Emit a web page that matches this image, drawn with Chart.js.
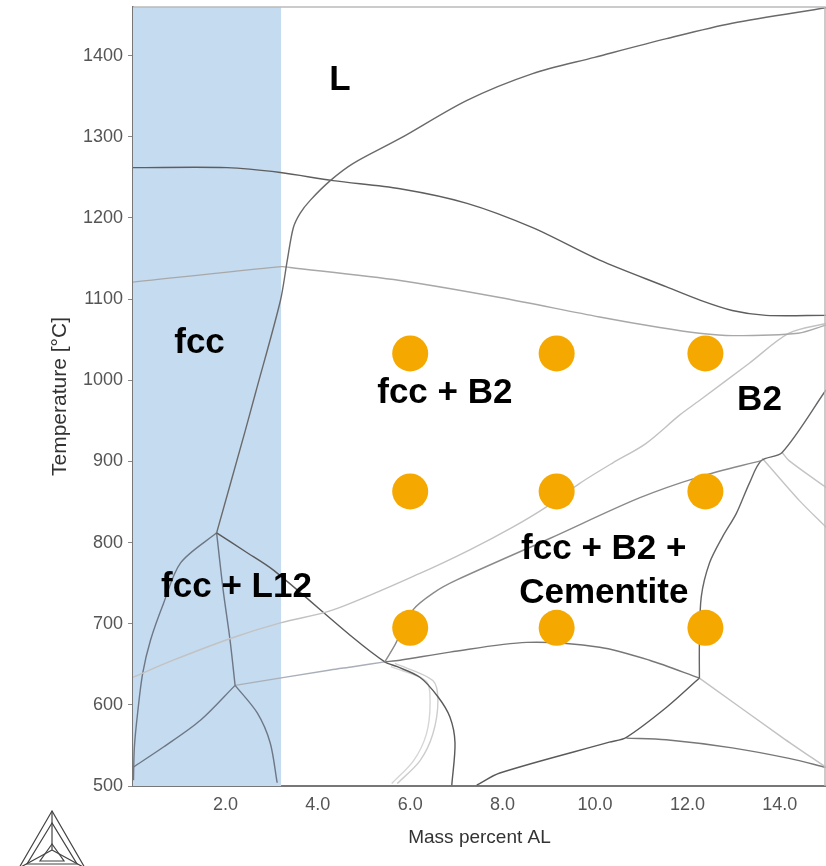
<!DOCTYPE html>
<html>
<head>
<meta charset="utf-8">
<script src="https://cdn.jsdelivr.net/npm/chart.js@4.4.1/dist/chart.umd.min.js"></script>
<style>
  html, body { margin: 0; padding: 0; background: #fff; overflow: hidden; }
  canvas { display: block; }
</style>
</head>
<body>
<canvas id="plot" width="826" height="866"></canvas>
<script>
// Phase boundaries: [mass percent Al, temperature in °C]
const liquidusTop = [[1.81,812],[2.43,938],[2.65,984],[3.19,1098],[3.34,1148],[3.47,1188],[3.62,1206],[3.84,1222],[4.27,1246],[4.76,1267],[5.78,1298],[7.23,1345],[8.65,1378],[9.99,1398],[11.55,1421],[12.97,1440],[15,1459]];
const solidusUpper = [[0,1262],[2.03,1262],[3.19,1256],[4.33,1246],[5.78,1236],[7.23,1218],[8.65,1188],[10.1,1148],[11.55,1115],[12.26,1099],[12.97,1086],[13.7,1080],[15,1080]];
const line1120 = [[0,1121],[3.21,1140],[3.4,1139],[5.78,1123],[7.94,1102],[10.1,1078],[11.4,1065],[12.26,1058],[12.97,1055],[14.4,1058],[15,1068]];
const b2Solvus = [[15,1070],[14.2,1058],[13.34,1021],[12.26,975],[11.83,957],[11.1,922],[10.38,898],[9.67,873],[8.95,844],[8.22,819],[7.29,791],[6.21,762],[4.33,717],[3.19,701],[2.17,683],[0.87,655],[0,634]];
const cementiteTop = [[5.45,653],[5.67,674],[6.06,717],[6.53,739],[7.01,754],[9.02,805],[10.96,855],[12.26,881],[13.6,901]];
const cementiteRight = [[12.26,633],[12.26,676],[12.3,733],[12.48,775],[12.76,807],[13.06,836],[13.34,873],[13.6,901],[14.05,911],[15,988]];
const faintRight1 = [[13.62,904],[14.42,852],[15,819]];
const faintRight2 = [[14.05,911],[14.2,901],[15,868]];
const cementiteBottom = [[5.45,653],[5.78,655],[6.86,665],[8.52,677],[10.1,671],[11.18,655],[12.26,633]];
const lowerLeftBranch = [[12.26,633],[11.55,597],[10.68,560],[10.31,554],[7.94,516],[7.44,501]];
const lowerRightBranch = [[12.26,633],[14.05,560],[15,523]];
const lowerArc = [[10.68,559],[11.54,557],[12.97,547],[14.2,534],[15,523]];
const loopDark = [[1.81,812],[2.43,789],[3.04,766],[4.76,683],[5.45,653],[5.72,647],[6.21,634],[6.6,610],[6.86,585],[6.97,553],[6.9,501]];
const loopFaintOuter = [[5.67,651],[6.49,630],[6.6,605],[6.49,564],[6.21,531],[5.72,503]];
const loopFaintInner = [[5.58,647],[6.35,629],[6.43,603],[6.35,564],[6.07,531],[5.6,503]];
const fccSolvus = [[1.81,812],[1.03,775],[0.66,725],[0.38,680],[0.21,639],[0.1,590],[0.03,548],[0.01,507]];
const l12Split = [[1.81,812],[1.95,742],[2.1,680],[2.21,624]];
const lowLeft = [[2.21,624],[1.46,581],[0.66,548],[0,523]];
const lowRight = [[2.21,624],[2.69,590],[2.97,553],[3.12,504]];
const lowMid = [[2.21,624],[4.27,643],[4.76,647],[5.45,653]];

// Shaded composition band and sample points
const bandAl = [0, 3.21];
const sampleAl = [6.0, 9.17, 12.39];
const sampleT = [1033, 863, 695];

// Region labels
const regionText = ['L', 'fcc', 'fcc + B2', 'B2', 'fcc + L12', 'fcc + B2 +', 'Cementite'];
const regionAl = [4.48, 1.44, 6.75, 13.56, 2.24, 10.19, 10.19];
const regionT = [1369, 1045, 984, 975, 745, 792, 737];

// Axis ranges and tick values
const alMin = 0, alMax = 15;
const tMin = 500, tMax = 1460;
const xTicks = [2, 4, 6, 8, 10, 12, 14];
const yTicks = [500, 600, 700, 800, 900, 1000, 1100, 1200, 1300, 1400];

const curves = [
  [liquidusTop, '#6a6a6a'], [solidusUpper, '#5e5e5e'], [line1120, '#a8a8a8'],
  [b2Solvus, '#c2c2c2'], [cementiteTop, '#8a8a8a'], [cementiteRight, '#666'],
  [faintRight1, '#c4c4c4'], [faintRight2, '#c4c4c4'], [cementiteBottom, '#777'],
  [lowerLeftBranch, '#5a5a5a'], [lowerRightBranch, '#c2c2c2'], [lowerArc, '#777'],
  [loopDark, '#5a5a5a'], [loopFaintOuter, '#cdcdcd'], [loopFaintInner, '#d6d6d6'],
  [fccSolvus, '#6d7786'], [l12Split, '#6d7786'], [lowLeft, '#6d7786'],
  [lowRight, '#6d7786'], [lowMid, '#a9afb8']
];

const datasets = [];
datasets.push({
  data: bandAl.map(v => ({x: v, y: tMax})),
  showLine: true, fill: 'start', backgroundColor: '#c5dbf0',
  borderWidth: 0, pointRadius: 0, order: 100
});
curves.forEach(([pts, col]) => {
  datasets.push({
    data: pts.map(p => ({x: p[0], y: p[1]})),
    showLine: true, borderColor: col, borderWidth: 1.4,
    pointRadius: 0, tension: 0.3, fill: false, order: 50
  });
});
const samples = [];
sampleT.forEach(t => sampleAl.forEach(a => samples.push({x: a, y: t})));
datasets.push({
  data: samples, pointRadius: 18, pointHoverRadius: 18,
  backgroundColor: '#f5a800', borderWidth: 0, order: 0
});

const decor = {
  id: 'decor',
  afterDatasetsDraw(chart) {
    const {ctx, scales: {x, y}, chartArea: a} = chart;
    ctx.save();
    // frame top / right
    ctx.strokeStyle = '#bbb';
    ctx.lineWidth = 1.5;
    ctx.beginPath();
    ctx.moveTo(a.left, a.top); ctx.lineTo(a.right - 1, a.top); ctx.lineTo(a.right - 1, a.bottom);
    ctx.stroke();
    // region labels
    ctx.fillStyle = '#000';
    ctx.font = 'bold 35px "Liberation Sans", Arial, sans-serif';
    ctx.textAlign = 'center';
    ctx.textBaseline = 'middle';
    regionText.forEach((t, i) => {
      ctx.fillText(t, x.getPixelForValue(regionAl[i]), y.getPixelForValue(regionT[i]));
    });
    ctx.restore();
  },
  afterDraw(chart) {
    const ctx = chart.ctx;
    // Thermo-Calc style logo
    ctx.save();
    ctx.strokeStyle = '#444';
    ctx.lineWidth = 1.2;
    const tri = (pts) => { ctx.beginPath(); ctx.moveTo(pts[0][0], pts[0][1]); pts.slice(1).forEach(p => ctx.lineTo(p[0], p[1])); ctx.closePath(); ctx.stroke(); };
    tri([[52,811],[19,868],[85,868]]);
    tri([[52,823],[27,864],[77,864]]);
    tri([[52,844],[40,861],[64,861]]);
    ctx.beginPath();
    ctx.moveTo(52,811); ctx.lineTo(52,850);
    ctx.moveTo(52,850); ctx.lineTo(19,868);
    ctx.moveTo(52,850); ctx.lineTo(85,868);
    ctx.stroke();
    ctx.restore();
  }
};

const fontFam = '"Liberation Sans", Arial, sans-serif';

new Chart(document.getElementById('plot'), {
  type: 'scatter',
  data: { datasets: datasets },
  options: {
    responsive: false,
    animation: false,
    events: [],
    layout: { autoPadding: false, padding: { top: 7, right: 0, left: 0, bottom: 0 } },
    plugins: { legend: { display: false }, tooltip: { enabled: false } },
    scales: {
      x: {
        type: 'linear', min: alMin, max: alMax,
        afterFit: s => { s.height = 80; s.paddingLeft = 0; s.paddingRight = 0; },
        // an unlabelled tick at the right end keeps Chart.js from reserving label room there
        afterBuildTicks: s => { s.ticks = xTicks.concat([alMax]).map(v => ({value: v})); },
        ticks: {
          callback: v => (v === alMax ? null : v.toFixed(1)),
          color: '#555', padding: 0,
          font: { family: fontFam, size: 18 }
        },
        grid: { drawOnChartArea: false, tickLength: 8, tickColor: 'rgba(0,0,0,0)' },
        border: { color: '#777', width: 2 },
        title: {
          display: true, text: 'Mass percent AL', color: '#333',
          font: { family: fontFam, size: 19 },
          padding: { top: 0, bottom: 17 }
        }
      },
      y: {
        type: 'linear', min: tMin, max: tMax,
        // no extra room above the plot for the top tick label
        afterFit: s => { s.width = 133; s.paddingTop = 0; s.paddingBottom = 0; },
        afterBuildTicks: s => { s.ticks = yTicks.concat([tMax]).map(v => ({value: v})); },
        ticks: {
          callback: v => (v === tMax ? null : String(v)),
          color: '#555', padding: 5,
          font: { family: fontFam, size: 18 }
        },
        grid: {
          drawOnChartArea: false, tickLength: 5,
          tickColor: c => (c.tick && c.tick.value === tMax ? 'rgba(0,0,0,0)' : '#888')
        },
        border: { color: '#777', width: 2 },
        title: {
          display: true, text: 'Temperature [°C]', color: '#333',
          font: { family: fontFam, size: 21 },
          padding: { top: 48, bottom: 0 }
        }
      }
    }
  },
  plugins: [decor]
});
</script>
</body>
</html>
